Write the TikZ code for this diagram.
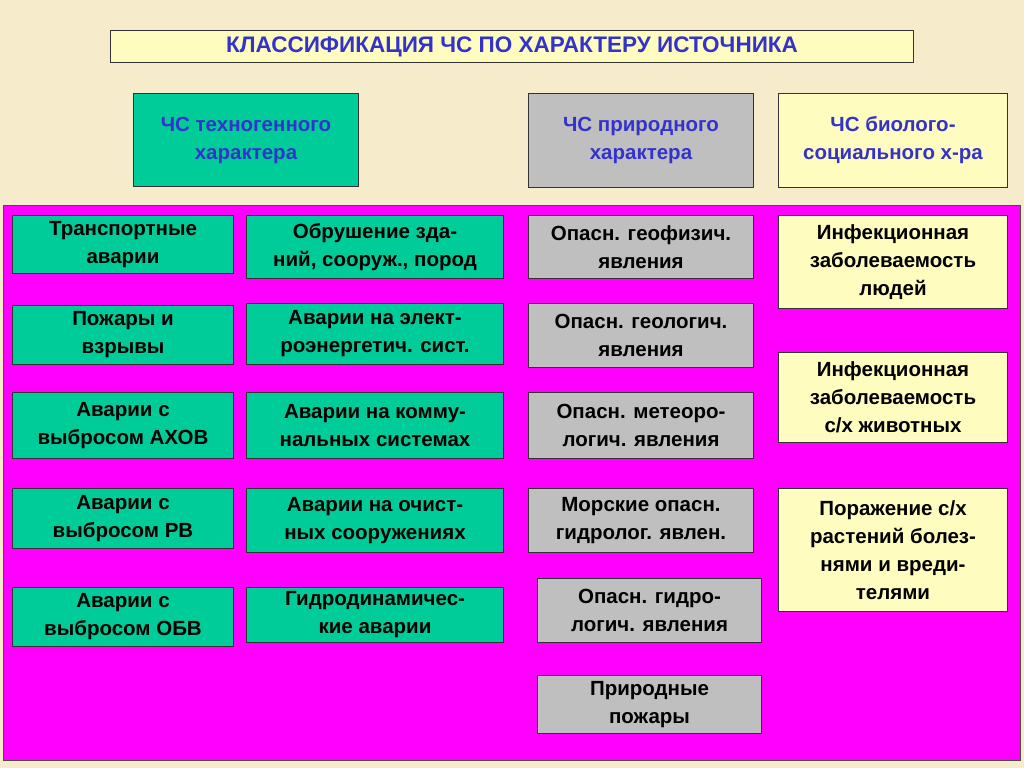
\documentclass[tikz,border=0pt]{standalone}
\usepackage{fontspec}
\setmainfont{Liberation Sans}
\begin{document}
\begin{tikzpicture}[x=1pt,y=-1pt,
    every node/.style={inner sep=2pt, align=center, font=\fontsize{20.5}{28}\selectfont\bfseries, anchor=north west, draw=black!80, line width=1pt},
    teal/.style={fill=tealc},
    grey/.style={fill=black!25},
    pale/.style={fill=yellow!25},
    head/.style={text=headc}]
    \definecolor{bg}{HTML}{F6EBCB}
    \definecolor{tealc}{HTML}{00CC99}
    \definecolor{headc}{HTML}{3333CC}
    \definecolor{panel}{HTML}{FF00FF}
    \fill[bg] (0,0) rectangle (1024,768);
    \useasboundingbox (0,0) rectangle (1024,768);
    \node[pale, head, minimum width=803, minimum height=32, font=\fontsize{22.5}{26}\selectfont\bfseries] (title) at (110,30) {КЛАССИФИКАЦИЯ ЧС ПО ХАРАКТЕРУ ИСТОЧНИКА};
    % headers
    \node[teal, head, minimum width=225, minimum height=93] (tech) at (133,93) {ЧС техногенного\\характера};
    \node[grey, head, minimum width=225, minimum height=94] (nat) at (528,93) {ЧС природного\\характера};
    \node[pale, head, minimum width=229, minimum height=94] (bio) at (778,93) {ЧС биолого-\\социального х-ра};
    \fill[panel] (3,205) rectangle (1020,760);
    \draw[black!70, line width=1pt] (3,205) rectangle (1020,760);
    % column 1
    \node[teal, minimum width=221, minimum height=58] (t1) at (12,215) {Транспортные\\аварии};
    \node[teal, minimum width=221, minimum height=59] (t2) at (12,305) {Пожары и\\взрывы};
    \node[teal, minimum width=221, minimum height=66] (t3) at (12,392) {Аварии с\\выбросом АХОВ};
    \node[teal, minimum width=221, minimum height=60] (t4) at (12,488) {Аварии с\\выбросом РВ};
    \node[teal, minimum width=221, minimum height=59] (t5) at (12,587) {Аварии с\\выбросом ОБВ};
    % column 2
    \node[teal, minimum width=257, minimum height=63] (u1) at (246,215) {Обрушение зда-\\ний, сооруж., пород};
    \node[teal, minimum width=257, minimum height=61] (u2) at (246,303) {Аварии на элект-\\роэнергетич. сист.};
    \node[teal, minimum width=257, minimum height=66] (u3) at (246,392) {Аварии на комму-\\нальных системах};
    \node[teal, minimum width=257, minimum height=64] (u4) at (246,488) {Аварии на очист-\\ных сооружениях};
    \node[teal, minimum width=257, minimum height=55] (u5) at (246,587) {Гидродинамичес-\\кие аварии};
    % column 3
    \node[grey, minimum width=225, minimum height=63] (n1) at (528,215) {Опасн. геофизич.\\явления};
    \node[grey, minimum width=225, minimum height=64] (n2) at (528,303) {Опасн. геологич.\\явления};
    \node[grey, minimum width=225, minimum height=66] (n3) at (528,392) {Опасн. метеоро-\\логич. явления};
    \node[grey, minimum width=225, minimum height=64] (n4) at (528,488) {Морские опасн.\\гидролог. явлен.};
    \node[grey, minimum width=224, minimum height=64] (n5) at (537,578) {Опасн. гидро-\\логич. явления};
    \node[grey, minimum width=224, minimum height=58] (n6) at (537,675) {Природные\\пожары};
    % column 4
    \node[pale, minimum width=229, minimum height=93] (b1) at (778,215) {Инфекционная\\заболеваемость\\людей};
    \node[pale, minimum width=229, minimum height=90] (b2) at (778,352) {Инфекционная\\заболеваемость\\с/х животных};
    \node[pale, minimum width=229, minimum height=123] (b3) at (778,488) {Поражение с/х\\растений болез-\\нями и вреди-\\телями};
\end{tikzpicture}
\end{document}
